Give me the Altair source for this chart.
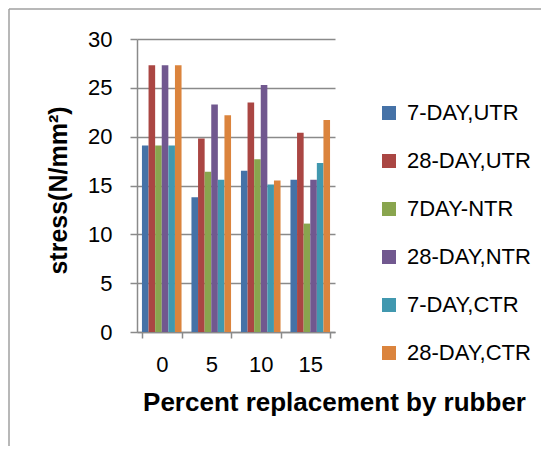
import altair as alt
import pandas as pd

groups = ["0", "5", "10", "15"]
series = ["7-DAY,UTR", "28-DAY,UTR", "7DAY-NTR", "28-DAY,NTR", "7-DAY,CTR", "28-DAY,CTR"]
colors = ["#4572A7", "#AA4643", "#89A54E", "#71588F", "#4198AF", "#DB843D"]

s_7utr = [19.1, 13.8, 16.5, 15.6]
s_28utr = [27.3, 19.8, 23.5, 20.4]
s_7ntr = [19.1, 16.4, 17.7, 11.1]
s_28ntr = [27.3, 23.3, 25.3, 15.6]
s_7ctr = [19.1, 15.6, 15.1, 17.3]
s_28ctr = [27.3, 22.2, 15.5, 21.7]

vals = [s_7utr, s_28utr, s_7ntr, s_28ntr, s_7ctr, s_28ctr]
rows = []
for name, v in zip(series, vals):
    for g, y in zip(groups, v):
        rows.append({"pct": g, "series": name, "stress": y})
df = pd.DataFrame(rows)

FONT = "Liberation Sans"
GRID = "#8a8a8a"

bars = alt.Chart(df).mark_bar().encode(
    x=alt.X("pct:N", sort=groups,
            scale=alt.Scale(paddingInner=0.2, paddingOuter=0.1),
            axis=alt.Axis(title="Percent replacement by rubber", labelAngle=0,
                          labelFont=FONT, labelFontSize=22, labelColor="#000",
                          labelPadding=16, tickBand="extent", tickSize=6,
                          tickColor=GRID, tickWidth=1.5, domainColor=GRID, domainWidth=1.5,
                          grid=False,
                          titleFont=FONT, titleFontSize=26, titleFontWeight="bold", titleColor="#000",
                          titleX=197, titleY=78, titleAlign="center", titleBaseline="alphabetic")),
    xOffset=alt.XOffset("series:N", sort=series, scale=alt.Scale(paddingInner=0, paddingOuter=0)),
    y=alt.Y("stress:Q", scale=alt.Scale(domain=[0, 30], nice=False),
            axis=alt.Axis(title="stress(N/mm²)", values=[0, 5, 10, 15, 20, 25, 30],
                          labelFont=FONT, labelFontSize=22, labelColor="#000", labelPadding=18,
                          tickSize=7, tickColor=GRID, tickWidth=1.5,
                          domainColor=GRID, domainWidth=1.5,
                          grid=True, gridColor=GRID, gridWidth=1.5,
                          titleFont=FONT, titleFontSize=25, titleFontWeight="bold", titleColor="#000",
                          titlePadding=16, titleY=151)),
    color=alt.Color("series:N", sort=series,
                    scale=alt.Scale(domain=series, range=colors),
                    legend=alt.Legend(title=None, orient="none", legendX=241, legendY=63,
                                      symbolType="square", symbolSize=196, symbolStrokeWidth=0,
                                      labelFont=FONT, labelFontSize=22, labelColor="#000",
                                      labelOffset=7, rowPadding=26, padding=0)),
)

frame_data = alt.Data(values=[{"a": 1}])
frame_top = alt.Chart(frame_data).mark_rule(color="#a0a0a0", strokeWidth=1.5).encode(
    x=alt.value(-128), x2=alt.value(600), y=alt.value(-30))
frame_left = alt.Chart(frame_data).mark_rule(color="#a0a0a0", strokeWidth=1.5).encode(
    x=alt.value(-128), y=alt.value(-30), y2=alt.value(600))

chart = alt.layer(bars, frame_top, frame_left).properties(
    width=198, height=293,
    autosize=alt.AutoSizeParams(type="none"),
    padding={"left": 129, "top": 31, "right": 206, "bottom": 114},
).configure_view(stroke=None)

chart.save("out.html", embed_options={"renderer": "svg", "actions": False})
